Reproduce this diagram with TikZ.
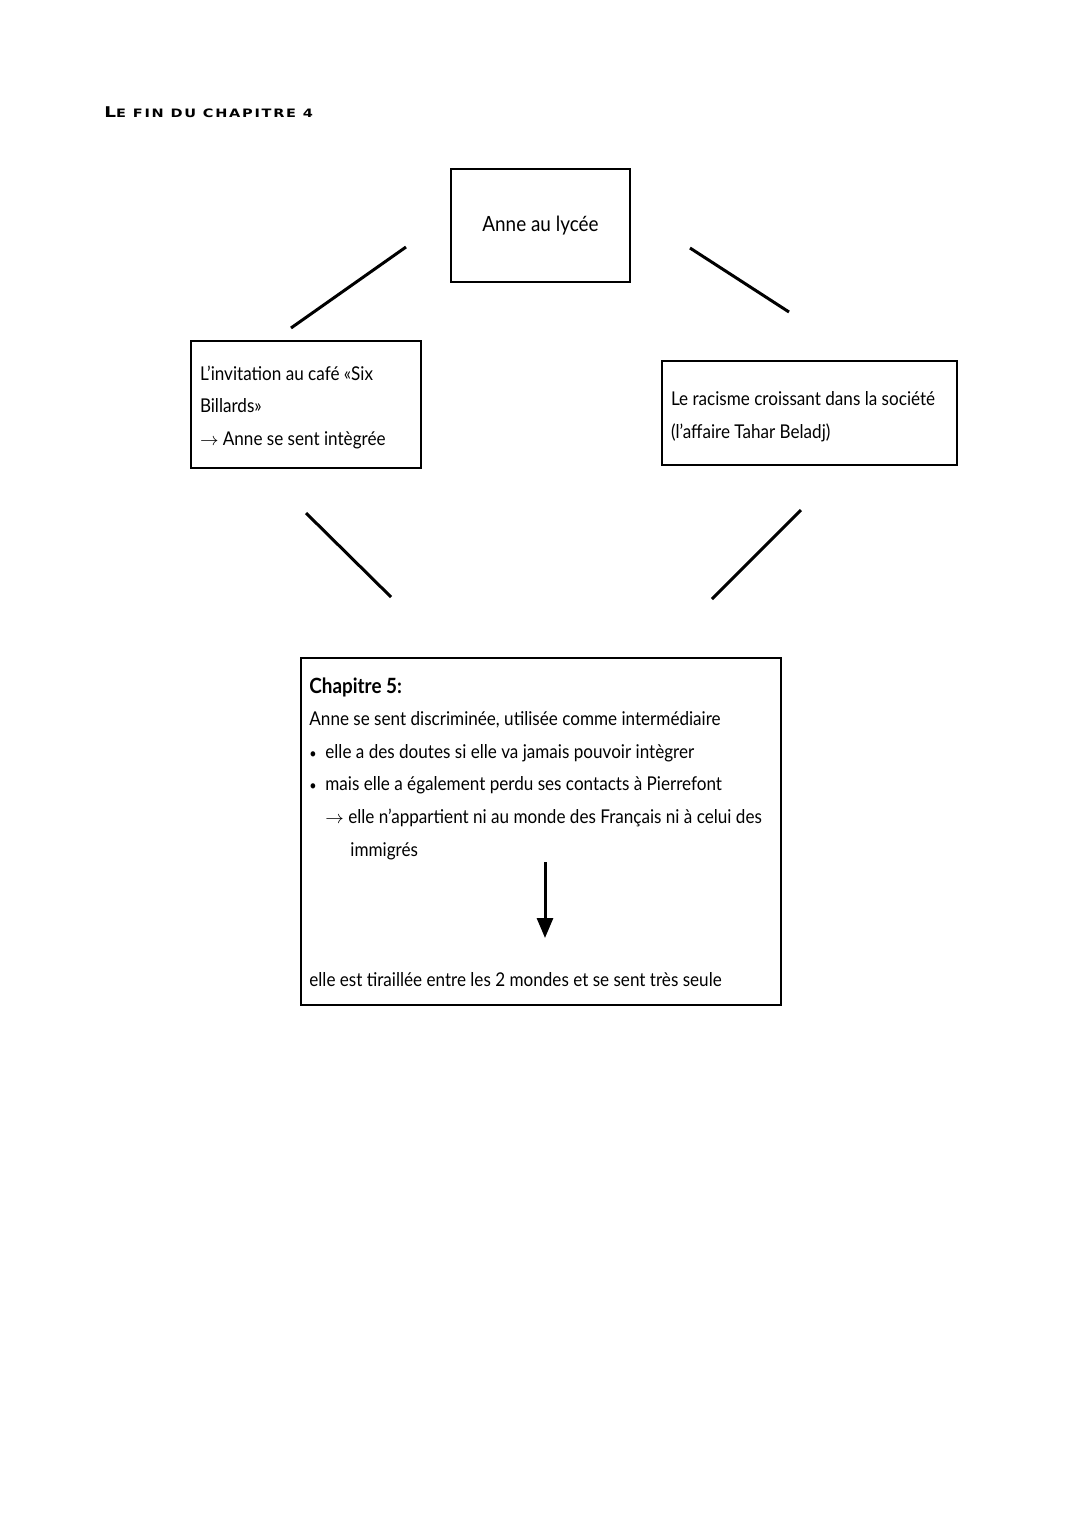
\documentclass[tikz,border=0pt]{standalone}
\usepackage{fontspec}
\setmainfont{Lato}[FakeStretch=0.9]
\newfontfamily\titlefont{DejaVu Sans}[LetterSpace=15,FakeStretch=1.25]
\usetikzlibrary{arrows.meta}
\usetikzlibrary{positioning}

\newcommand{\puce}{\makebox[8pt][l]{\scriptsize\textbullet}}

\begin{document}
\begin{tikzpicture}[x=0.5pt,y=-0.5pt,
    box/.style={draw,line width=1pt,inner xsep=4.5pt,inner ysep=0pt,align=flush left,anchor=north west},
    txt/.style={inner sep=0pt,align=flush left,font=\fontsize{9.5}{16.3}\selectfont},
    link/.style={line width=1.5pt},
    fleche/.style={line width=1.5pt,-{Triangle[width=8pt,length=10pt]}}]
  \useasboundingbox (0,0) rectangle (1080,1527);
  \node[anchor=base west,inner sep=0pt] (titre) at (104,117)
    {\titlefont\bfseries\fontsize{7.4}{8}\selectfont L\fontsize{5.8}{6}\selectfont E FIN DU CHAPITRE 4};
  % les quatre cases
  \node[box,txt,align=center,inner sep=0pt,minimum width=89.5pt,minimum height=56.5pt,
    font=\fontsize{10.5}{16.3}\selectfont] (lycee) at (450,168) {\raisebox{-1.5pt}{Anne au lycée}};
  \node[box,txt,inner xsep=4.5pt,text width=106pt,minimum height=63.5pt] (cafe) at (190,340)
    {\rule{0pt}{10pt}L'invitation au café «Six\\Billards»\\$\rightarrow$ Anne se sent intègrée};
  \node[box,txt,inner xsep=4.5pt,text width=138.5pt,minimum height=52pt] (racisme) at (661,360)
    {\rule{0pt}{11pt}Le racisme croissant dans la société\\(l'affaire Tahar Beladj)};
  \node[box,minimum width=240pt,minimum height=173.5pt] (chap5) at (300,657) {};
  \node[txt,anchor=north west] (liste) at (309,677)
    {{\bfseries\fontsize{10.5}{16.3}\selectfont Chapitre 5:}\\
     Anne se sent discriminée, utilisée comme intermédiaire\\
     \puce elle a des doutes si elle va jamais pouvoir intègrer\\
     \puce mais elle a également perdu ses contacts à Pierrefont\\
     \hspace*{8pt}$\rightarrow$ elle n'appartient ni au monde des Français ni à celui des\\
     \hspace*{20.5pt}immigrés};
  \node[txt,anchor=base west] (seule) at (309,986)
    {elle est tiraillée entre les 2 mondes et se sent très seule};
  % les traits
  \coordinate (l1a) at (291,328);
  \coordinate (l1b) at (406,247);
  \coordinate (l2a) at (690,248);
  \coordinate (l2b) at (789,312);
  \coordinate (l3a) at (306,513);
  \coordinate (l3b) at (391,597);
  \coordinate (l4a) at (801,510);
  \coordinate (l4b) at (712,599);
  \draw[link] (l1a) -- (l1b);
  \draw[link] (l2a) -- (l2b);
  \draw[link] (l3a) -- (l3b);
  \draw[link] (l4a) -- (l4b);
  \coordinate (flA) at (545,862);
  \coordinate (flB) at (545,938);
  \draw[fleche] (flA) -- (flB);
\end{tikzpicture}
\end{document}
